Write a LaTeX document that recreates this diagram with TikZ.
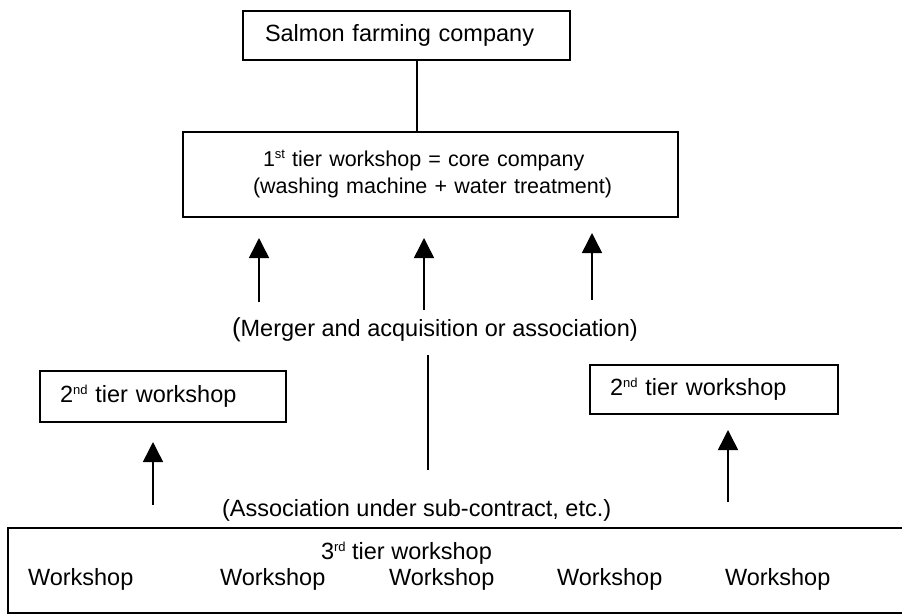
\documentclass[tikz,border=0pt]{standalone}
\usepackage{fontspec}
\setmainfont{Liberation Sans}
\usetikzlibrary{arrows.meta}
% small raised ordinal suffix, as in 1st, 2nd, 3rd
\newcommand{\ordsuf}[1]{\raisebox{8pt}{\fontsize{13}{13}\selectfont #1}}
\begin{document}
\begin{tikzpicture}[x=1pt,y=-1pt,
  every node/.style={inner sep=0pt, outer sep=0pt},
  big/.style={font=\fontsize{23.5}{28}\selectfont},
  small/.style={font=\fontsize{21.5}{27}\selectfont},
  txt/.style={big, anchor=west},
  box/.style={draw, line width=1.5pt, rectangle, anchor=north west, align=left},
  link/.style={line width=1.5pt},
  up/.style={line width=1.5pt, -{Triangle[length=20pt,width=20pt]}}]

\useasboundingbox (0,0) rectangle (902,615);

% top level
\node[box, big, minimum width=327pt, minimum height=49pt,
      text width=283pt, inner xsep=22pt] (salmon) at (243,11)
      {\mbox{Salmon farming company}};

% first tier
\node[box, small, minimum width=495pt, minimum height=85pt,
      text width=355pt, inner xsep=70pt] (core) at (183,132)
      {\mbox{\hspace*{10pt}1\ordsuf{st} tier workshop = core company}\\
       \mbox{(washing machine + water treatment)}};

\draw[link] (salmon.south -| 417,0) -- (core.north -| 417,0);

% arrows into the first tier
\coordinate (a1t) at (259,302); \coordinate (a1h) at (259,238);
\coordinate (a2t) at (424,310); \coordinate (a2h) at (424,238);
\coordinate (a3t) at (592,300); \coordinate (a3h) at (592,233);
\draw[up] (a1t) -- (a1h);
\draw[up] (a2t) -- (a2h);
\draw[up] (a3t) -- (a3h);

\node[txt] (merger) at (232,330)
  {{\fontsize{26}{26}\selectfont(}Merger and acquisition or association)};

\coordinate (m1) at (428,355); \coordinate (m2) at (428,470);
\draw[link] (m1) -- (m2);

% second tier
\node[box, big, minimum width=246pt, minimum height=51pt,
      text width=206pt, inner xsep=20pt] (left2) at (40,371)
      {\mbox{2\ordsuf{nd} tier workshop}};
\node[box, big, minimum width=248pt, minimum height=49pt,
      text width=208pt, inner xsep=20pt] (right2) at (590,365)
      {\mbox{2\ordsuf{nd} tier workshop}};

\coordinate (b1t) at (153,505); \coordinate (b1h) at (153,442);
\coordinate (b2t) at (728,502); \coordinate (b2h) at (728,430);
\draw[up] (b1t) -- (b1h);
\draw[up] (b2t) -- (b2h);

\node[txt] (assoc) at (222,510) {(Association under sub-contract, etc.)};

% third tier
\node[box, minimum width=904pt, minimum height=85pt] (tier3) at (8,528) {};
\node[txt] (t3) at (321,553) {3\ordsuf{rd} tier workshop};
\node[txt] (w1) at (28,579)  {Workshop};
\node[txt] (w2) at (220,579) {Workshop};
\node[txt] (w3) at (389,579) {Workshop};
\node[txt] (w4) at (557,579) {Workshop};
\node[txt] (w5) at (725,579) {Workshop};

\end{tikzpicture}
\end{document}
